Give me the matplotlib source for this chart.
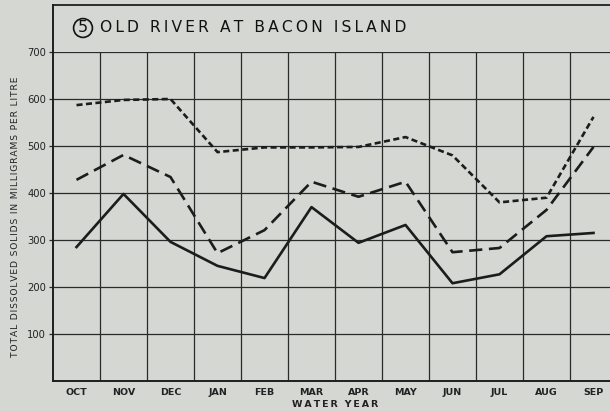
import matplotlib
matplotlib.use('Agg')
import matplotlib.pyplot as plt
import numpy as np

BG = "#d5d7d3"
INK = "#1c1c1c"

months = ['OCT', 'NOV', 'DEC', 'JAN', 'FEB', 'MAR', 'APR', 'MAY', 'JUN', 'JUL', 'AUG', 'SEP']
# total dissolved solids, mg/l
upper = [587, 598, 600, 487, 497, 497, 498, 519, 480, 380, 390, 562]
middle = [428, 481, 434, 272, 321, 424, 392, 424, 274, 283, 364, 498]
lower = [285, 398, 296, 245, 219, 370, 294, 332, 208, 227, 308, 315]
yticks = [100, 200, 300, 400, 500, 600, 700]


def spaced(s, gap='\u200a'):
    # open up letter spacing a little
    return gap.join(s)


fig = plt.figure(figsize=(6.1, 4.11), dpi=100)
fig.patch.set_facecolor(BG)

# plot area: 53..617 px wide, 52..381 px tall
ax = fig.add_axes([53 / 610, 1 - 381 / 411, 564 / 610, 329 / 411])
ax.set_facecolor(BG)
ax.set_xlim(0, 12)
ax.set_ylim(0, 700)

x = np.arange(len(months)) + 0.5

for v in range(1, 12):
    ax.axvline(v, color='#2a2a2a', lw=0.9, zorder=1)
for v in yticks:
    ax.axhline(v, color='#2a2a2a', lw=0.9, zorder=1)

ax.plot(x, lower, color=INK, lw=1.9, zorder=3)
l2, = ax.plot(x, middle, color=INK, lw=1.9, zorder=3)
l2.set_dashes([5.0, 2.5])
l3, = ax.plot(x, upper, color=INK, lw=1.9, zorder=3)
l3.set_dashes([2.3, 1.3])

ax.set_xticks(x)
ax.set_xticklabels(months, fontsize=6.8, fontweight='bold', color='#222222')
ax.set_yticks(yticks)
ax.set_yticklabels([str(v) for v in yticks], fontsize=7.2, color='#222222')
ax.tick_params(axis='x', length=0, pad=5)
ax.tick_params(axis='y', length=3, width=0.9, color='#2a2a2a', pad=2)

for side in ['top', 'right']:
    ax.spines[side].set_visible(False)
for side in ['left', 'bottom']:
    ax.spines[side].set_linewidth(1.4)
    ax.spines[side].set_color('#1e1e1e')

ax.set_xlabel(spaced('WATER YEAR', '\u2009'), fontsize=6.8, fontweight='bold',
              color='#222222', labelpad=2)
ax.set_ylabel(spaced('TOTAL DISSOLVED SOLIDS IN MILLIGRAMS PER LITRE'), fontsize=6.6,
              color='#222222', labelpad=5)

# title box above the grid
x0 = 53 / 610
y_top = 1 - 5 / 411
y_bot = 1 - 52 / 411
fig.add_artist(plt.Line2D([x0, 1], [y_top, y_top], color='#1e1e1e', lw=1.3))
fig.add_artist(plt.Line2D([x0, x0], [y_bot, y_top], color='#1e1e1e', lw=1.4))

fig.text(83 / 610, 1 - 28 / 411, '5', fontsize=11.5, ha='center', va='center',
         color='#111111',
         bbox=dict(boxstyle='circle,pad=0.12', facecolor='none', edgecolor='#111111', lw=1.2))
fig.text(100 / 610, 1 - 28 / 411, spaced('OLD RIVER AT BACON ISLAND', '\u2009'),
         fontsize=11.2, ha='left', va='center', color='#111111')

plt.savefig('out.png', dpi=100, facecolor=BG)
plt.close()
